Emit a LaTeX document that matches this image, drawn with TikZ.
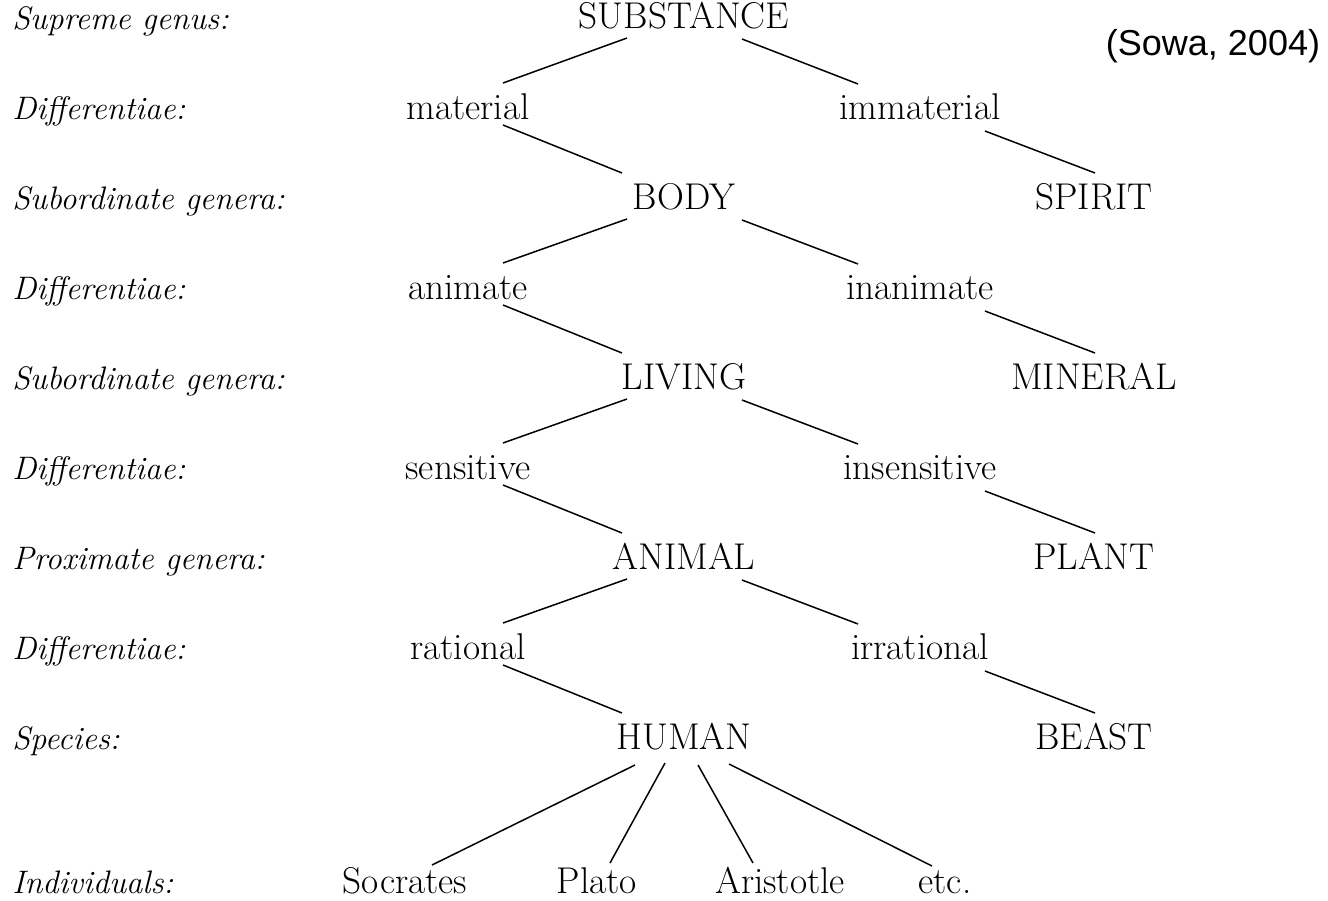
\documentclass[tikz,border=0pt]{standalone}
\usepackage{fontspec}
\newfontfamily\sowafont{Liberation Sans}
\usetikzlibrary{calc}

\tikzset{
  genus/.style={anchor=base, inner sep=0pt, font=\fontsize{21.2}{25}\selectfont},
  diff/.style={anchor=base, inner sep=0pt, font=\fontsize{21.2}{25}\selectfont},
  rowlabel/.style={anchor=base west, inner sep=0pt, font=\fontsize{18.5}{22}\selectfont\itshape},
  branch/.style={line width=0.85pt}
}

\begin{document}
\begin{tikzpicture}[x=0.02cm, y=-0.02cm]
    \useasboundingbox (0,0) rectangle (1328,900);

    % row labels
    \foreach \txt [count=\i from 0] in {Supreme genus:,Differentiae:,Subordinate genera:,Differentiae:,Subordinate genera:,Differentiae:,Proximate genera:,Differentiae:,Species:}
        \node[rowlabel] (lab\i) at (12, 29+90*\i) {\txt};
    \node[rowlabel] (lab9) at (12, 893) {Individuals:};

    % source
    \node[anchor=base, inner sep=0pt, font=\sowafont\fontsize{20.5}{24}\selectfont] (source) at (1213, 55) {(Sowa, 2004)};

    % tree of Porphyry
    \node[genus] (substance) at (684, 28) {SUBSTANCE};
    \node[diff] (material) at (468, 119) {material};
    \node[diff] (immaterial) at (920, 119) {immaterial};
    \node[genus] (body) at (684, 209) {BODY};
    \node[genus] (spirit) at (1094, 209) {SPIRIT};
    \node[diff] (animate) at (468, 299) {animate};
    \node[diff] (inanimate) at (920, 299) {inanimate};
    \node[genus] (living) at (684, 389) {LIVING};
    \node[genus] (mineral) at (1094, 389) {MINERAL};
    \node[diff] (sensitive) at (468, 479) {sensitive};
    \node[diff] (insensitive) at (920, 479) {insensitive};
    \node[genus] (animal) at (684, 569) {ANIMAL};
    \node[genus] (plant) at (1094, 569) {PLANT};
    \node[diff] (rational) at (468, 659) {rational};
    \node[diff] (irrational) at (920, 659) {irrational};
    \node[genus] (human) at (684, 749) {HUMAN};
    \node[genus] (beast) at (1094, 749) {BEAST};

    % individuals
    \node[genus] (socrates) at (405, 893) {Socrates};
    \node[genus] (plato) at (597, 893) {Plato};
    \node[genus] (aristotle) at (780, 893) {Aristotle};
    \node[genus] (etc) at (945, 893) {etc.};

    % branches
    \foreach \p/\l/\r/\c/\s in {substance/material/immaterial/body/spirit,
                                body/animate/inanimate/living/mineral,
                                living/sensitive/insensitive/animal/plant,
                                animal/rational/irrational/human/beast} {
        \draw[branch] ($(\p.base)+(-57,10)$) -- ($(\l.base)+(35,-36)$);
        \draw[branch] ($(\p.base)+(58,11)$) -- ($(\r.base)+(-62,-35)$);
        \draw[branch] ($(\l.base)+(35,6)$) -- ($(\c.base)+(-62,-36)$);
        \draw[branch] ($(\r.base)+(65,12)$) -- ($(\s.base)+(1,-36)$);
    }

    % human to individuals
    \draw[branch] ($(human.base)+(-49,16)$) -- ($(socrates.base)+(27,-28)$);
    \draw[branch] ($(human.base)+(-19,14)$) -- ($(plato.base)+(13,-30)$);
    \draw[branch] ($(human.base)+(14,16)$) -- ($(aristotle.base)+(-27,-30)$);
    \draw[branch] ($(human.base)+(45,15)$) -- ($(etc.base)+(-13,-27)$);
\end{tikzpicture}
\end{document}
